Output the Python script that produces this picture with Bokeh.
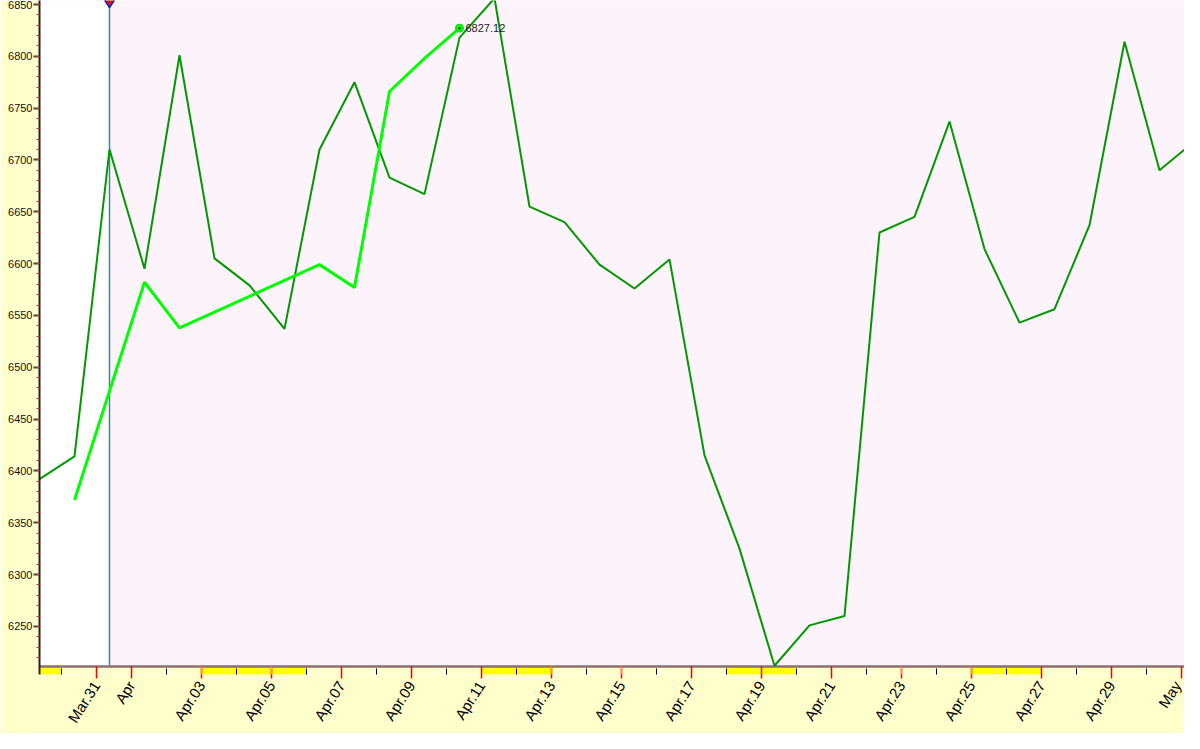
import pandas as pd
from bokeh.plotting import figure
from bokeh.models import FixedTicker, BoxAnnotation, Range1d, Span
from bokeh.core.properties import value
from bokeh.embed import file_html
from bokeh.resources import INLINE

# ---------------- data ----------------
BASE = "2021-03-31"

main_dates = [
    "2021-03-29 09:00", "2021-03-30 09:00", "2021-03-31 09:00", "2021-04-01 09:00",
    "2021-04-02 09:00", "2021-04-03 09:00", "2021-04-04 09:00", "2021-04-05 09:00",
    "2021-04-06 09:00", "2021-04-07 09:00", "2021-04-08 09:00", "2021-04-09 09:00",
    "2021-04-10 09:00", "2021-04-11 09:00", "2021-04-12 09:00", "2021-04-13 09:00",
    "2021-04-14 09:00", "2021-04-15 09:00", "2021-04-16 09:00", "2021-04-17 09:00",
    "2021-04-18 09:00", "2021-04-19 09:00", "2021-04-20 09:00", "2021-04-21 09:00",
    "2021-04-22 09:00", "2021-04-23 09:00", "2021-04-24 09:00", "2021-04-25 09:00",
    "2021-04-26 09:00", "2021-04-27 09:00", "2021-04-28 09:00", "2021-04-29 09:00",
    "2021-04-30 09:00", "2021-05-01 09:00",
]
main_values = [
    6392, 6414, 6710, 6595, 6801, 6605, 6579, 6537, 6710, 6775, 6683, 6667,
    6818, 6856, 6655, 6640, 6599, 6576, 6604, 6415, 6325, 6212, 6251, 6260,
    6630, 6645, 6737, 6614, 6543, 6556, 6637, 6814, 6690, 6718,
]

lime_dates = [
    "2021-03-30 09:00", "2021-04-01 09:00", "2021-04-02 09:00", "2021-04-06 09:00",
    "2021-04-07 09:00", "2021-04-08 09:00", "2021-04-09 09:00", "2021-04-10 09:00",
]
lime_values = [6372, 6582, 6538, 6599, 6577, 6766, 6798, 6827.12]

tick_dates = [
    "2021-03-31", "2021-04-01", "2021-04-03", "2021-04-05", "2021-04-07", "2021-04-09",
    "2021-04-11", "2021-04-13", "2021-04-15", "2021-04-17", "2021-04-19", "2021-04-21",
    "2021-04-23", "2021-04-25", "2021-04-27", "2021-04-29", "2021-05-01",
]
tick_labels = [
    "Mar.31", "Apr", "Apr.03", "Apr.05", "Apr.07", "Apr.09", "Apr.11", "Apr.13",
    "Apr.15", "Apr.17", "Apr.19", "Apr.21", "Apr.23", "Apr.25", "Apr.27", "Apr.29", "May",
]
orange_tick_dates = ["2021-04-03", "2021-04-05", "2021-04-13", "2021-04-15",
                     "2021-04-23", "2021-04-25"]
minor_tick_dates = [
    "2021-03-30", "2021-04-02", "2021-04-04", "2021-04-06", "2021-04-08", "2021-04-10",
    "2021-04-12", "2021-04-14", "2021-04-16", "2021-04-18", "2021-04-20", "2021-04-22",
    "2021-04-24", "2021-04-26", "2021-04-28", "2021-04-30",
]
band_starts = ["2021-03-29", "2021-04-03", "2021-04-11", "2021-04-18", "2021-04-25"]
band_ends = ["2021-03-30", "2021-04-06", "2021-04-13", "2021-04-20", "2021-04-27"]

cursor_date = "2021-03-31 09:00"
y_major = list(range(6250, 6851, 50))
y_minor = list(range(6220, 6851, 10))
axis_value, y_end = 6211.3, 6853.8

# ---------------- layout constants ----------------
W, H = 1184, 733
LEFT = 39
AXIS_PX = 666          # canvas y of the x axis line
STRIP_PX = 8           # yellow strip below the axis line (inside frame)
FRAME_BOTTOM = AXIS_PX + STRIP_PX
PX_PER_DAY = 35.0

base = pd.Timestamp(BASE)
def dnum(s):
    return (pd.Timestamp(s) - base) / pd.Timedelta(days=1)

main_x = [dnum(d) for d in main_dates]
lime_x = [dnum(d) for d in lime_dates]
tick_x = [dnum(d) for d in tick_dates]
minor_x = [dnum(d) for d in minor_tick_dates]
orange_x = [dnum(d) for d in orange_tick_dates]
cursor_x = dnum(cursor_date)
x0 = main_x[0]
x1 = x0 + (W - LEFT) / PX_PER_DAY
y_start = axis_value - STRIP_PX * (y_end - axis_value) / AXIS_PX

p = figure(width=W, height=H, output_backend="svg", toolbar_location=None,
           x_range=Range1d(x0, x1), y_range=Range1d(y_start, y_end),
           min_border_left=LEFT, min_border_right=0, min_border_top=0,
           min_border_bottom=H - FRAME_BOTTOM,
           background_fill_color="#FDF3FB", border_fill_color="#FFFFCC")
p.outline_line_color = None
p.grid.visible = False

# white region left of the cursor
p.add_layout(BoxAnnotation(right=cursor_x, bottom=axis_value, fill_color="#FFFFFF",
                           fill_alpha=1, line_color=None, level="underlay"))
# pale strip under the axis line + yellow bands
p.add_layout(BoxAnnotation(top=axis_value, fill_color="#FFFFCC", fill_alpha=1,
                           line_color=None, level="underlay"))
for s, e in zip(band_starts, band_ends):
    p.add_layout(BoxAnnotation(left=max(dnum(s), x0), right=dnum(e), top=axis_value,
                               fill_color="#FFFF00", fill_alpha=1, line_color=None,
                               level="underlay"))
# cursor line
p.add_layout(BoxAnnotation(left=cursor_x, right=cursor_x, bottom=axis_value,
                           fill_alpha=0, line_color="#2E8F94", line_alpha=1,
                           line_width=1.5, level="underlay"))
# x axis line
p.add_layout(Span(location=axis_value, dimension="width", line_color="#8C6E72",
                  line_width=2.5, level="underlay"))

# lines
p.line(main_x, main_values, line_color="#009900", line_width=2)
p.line(lime_x, lime_values, line_color="#00FF00", line_width=3)
p.scatter([lime_x[-1]], [lime_values[-1]], size=8, marker="circle",
          fill_color="#00FF00", line_color="#00DD00")
p.scatter([lime_x[-1]], [lime_values[-1]], size=2.5, marker="circle",
          fill_color="#004400", line_color=None)
p.text([lime_x[-1]], [lime_values[-1]], text=[f"{lime_values[-1]:.2f}"],
       x_offset=6, text_baseline="middle", text_align="left",
       text_font=value("Liberation Sans"), text_font_size="11px", text_color="#222222")

# cursor marker at top
p.scatter([cursor_x], [y_end], marker="diamond", size=14,
          fill_color="#DD1111", line_color="#1122CC", line_width=1.5)

# x axis
xa = p.xaxis[0]
xa.ticker = FixedTicker(ticks=tick_x, minor_ticks=minor_x)
xa.major_label_overrides = {t: lab for t, lab in zip(tick_x, tick_labels)}
xa.major_label_orientation = 1.0
xa.axis_line_color = None
xa.major_tick_line_color = "#FF0000"
xa.major_tick_line_width = 1.5
xa.major_tick_in = STRIP_PX
xa.major_tick_out = 4
xa.minor_tick_line_color = "#000000"
xa.minor_tick_in = STRIP_PX - 2
xa.minor_tick_out = 0
xa.major_label_text_font = "Liberation Sans"
xa.major_label_text_font_size = "15px"
xa.major_label_text_color = "#000000"
xa.major_label_standoff = 4

for t in orange_x:
    p.add_layout(BoxAnnotation(left=t, right=t, top=axis_value,
                               fill_alpha=0, line_color="#FF9A40", line_alpha=1,
                               line_width=1.5, level="overlay"))

# y axis
ya = p.yaxis[0]
ya.ticker = FixedTicker(ticks=y_major, minor_ticks=y_minor)
ya.axis_line_color = "#2B2020"
ya.axis_line_width = 2
ya.major_tick_line_color = "#5A3A3A"
ya.major_tick_line_width = 2
ya.major_tick_out = 6
ya.major_tick_in = 0
ya.minor_tick_line_color = "#D03030"
ya.minor_tick_out = 3
ya.minor_tick_in = 0
ya.major_label_text_font = "Liberation Sans"
ya.major_label_text_font_size = "11px"
ya.major_label_text_color = "#111111"
ya.major_label_standoff = 1

open("out.html", "w").write(file_html(p, INLINE))
